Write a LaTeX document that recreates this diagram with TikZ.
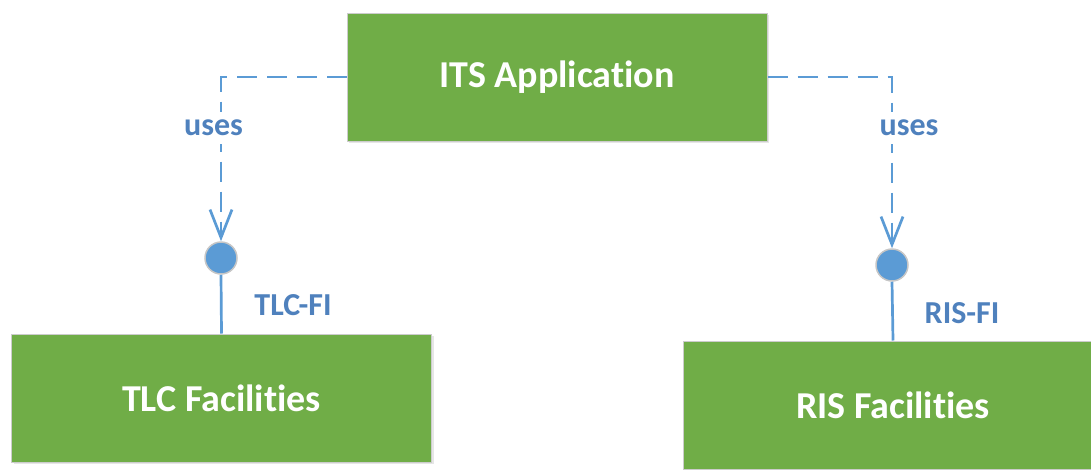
\documentclass[tikz,border=0pt]{standalone}
\usepackage{fontspec}
\setmainfont{Carlito}[Ligatures=NoCommon]
\usepackage{tikz}
\usetikzlibrary{arrows.meta}
\usetikzlibrary{shadows}
\definecolor{boxgreen}{HTML}{70AD47}
\definecolor{linkblue}{HTML}{5B9BD5}
\definecolor{labelblue}{HTML}{4F81BD}

\begin{document}
\begin{tikzpicture}[x=1pt, y=-1pt,
        block/.style={shape=rectangle, draw=gray!40, line width=1pt, fill=boxgreen,
            minimum width=420pt, minimum height=128pt, text=white,
            font=\fontsize{38}{44}\selectfont\bfseries,
            drop shadow={opacity=0.2, shadow xshift=2pt, shadow yshift=-2pt}},
        port/.style={shape=circle, draw=gray!45, line width=1.5pt, fill=linkblue,
            minimum size=32pt, inner sep=0pt},
        uses/.style={draw=linkblue, line width=2.7pt, dash pattern=on 20pt off 10pt,
            -{Straight Barb[length=28pt, width=22pt, line width=2.7pt]}},
        link/.style={draw=linkblue, line width=2.7pt},
        tag/.style={text=labelblue, font=\fontsize{32}{38}\selectfont\bfseries}]

        \clip (0,0) rectangle (1091,469);

        \node[block] (its) at (557,77) {ITS Application};
        \node[block] (tlc) at (221.5,398) {TLC Facilities};
        \node[block] (ris) at (893,405) {RIS Facilities};

        \node[port] (tlcport) at (221,258) {};
        \node[port] (risport) at (892,265) {};

        \draw[uses] (its.west) -| (tlcport.north);
        \draw[uses] (its.east) -| (risport.north);
        \draw[link] (tlcport.south) -- (tlc.north);
        \draw[link] (risport.south) -- (ris.north);

        \node[tag, fill=white, inner xsep=3pt, inner ysep=8pt] (usesleft) at (213.5,128) {uses};
        \node[tag, fill=white, inner xsep=3pt, inner ysep=8pt] (usesright) at (909,128) {uses};
        \node[tag] (tlcfi) at (293,305) {TLC-FI};
        \node[tag] (risfi) at (962,313) {RIS-FI};

\end{tikzpicture}
\end{document}
